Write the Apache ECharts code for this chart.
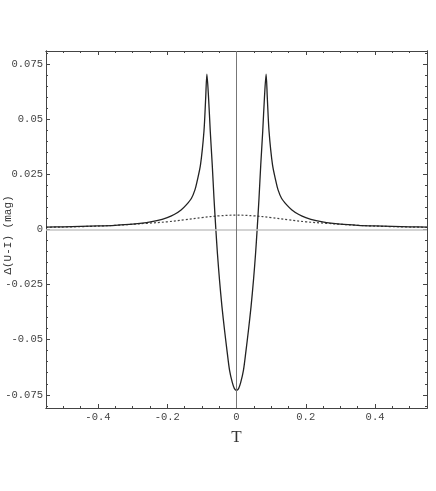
<!DOCTYPE html>
<html>
<head>
<meta charset="utf-8">
<script src="https://cdn.jsdelivr.net/npm/echarts@6/dist/echarts.min.js"></script>
<style>
  html, body { margin: 0; padding: 0; background: #fff; }
  #chart { width: 436px; height: 491px; }
</style>
</head>
<body>
<div id="chart"></div>
<script>
// solid curve (T, Δ(U-I))
var solidT = [-0.55, -0.50, -0.45, -0.40, -0.35, -0.30, -0.26, -0.23, -0.20, -0.18, -0.16, -0.145, -0.13, -0.12, -0.114, -0.104, -0.094, -0.089, -0.0855, -0.0806, -0.0757, -0.070, -0.065, -0.0596, -0.055, -0.049, -0.042, -0.0345, -0.027, -0.020, -0.012, -0.006, 0,
  0.006, 0.012, 0.020, 0.027, 0.0345, 0.042, 0.049, 0.055, 0.0596, 0.065, 0.070, 0.0757, 0.0806, 0.0855, 0.089, 0.094, 0.104, 0.114, 0.12, 0.13, 0.145, 0.16, 0.18, 0.20, 0.23, 0.26, 0.30, 0.35, 0.40, 0.45, 0.50, 0.55]
var solidV = [0.0011, 0.0012, 0.0014, 0.0016, 0.0019, 0.0024, 0.0031, 0.0040, 0.0054, 0.0068, 0.0089, 0.0112, 0.0142, 0.0180, 0.0217, 0.0293, 0.0445, 0.0596, 0.0705, 0.0596, 0.0445, 0.0293, 0.0142, 0.0, -0.0110, -0.0230, -0.0350, -0.0457, -0.0555, -0.0639, -0.0695, -0.0722, -0.0730,
  -0.0722, -0.0695, -0.0639, -0.0555, -0.0457, -0.0350, -0.0230, -0.0110, 0.0, 0.0142, 0.0293, 0.0445, 0.0596, 0.0705, 0.0596, 0.0445, 0.0293, 0.0217, 0.0180, 0.0142, 0.0112, 0.0089, 0.0068, 0.0054, 0.0040, 0.0031, 0.0024, 0.0019, 0.0016, 0.0014, 0.0012, 0.0011]

// dotted curve
var dottedT = [-0.55, -0.45, -0.35, -0.26, -0.20, -0.15, -0.10, -0.05, 0, 0.05, 0.10, 0.15, 0.20, 0.26, 0.35, 0.45, 0.55]
var dottedV = [0.0010, 0.0013, 0.0019, 0.0028, 0.0035, 0.0044, 0.0054, 0.0062, 0.0065, 0.0062, 0.0054, 0.0044, 0.0035, 0.0028, 0.0019, 0.0013, 0.0010]

// tick labels
var xTicks = [-0.4, -0.2, 0, 0.2, 0.4]
var yTicks = [-0.075, -0.05, -0.025, 0, 0.025, 0.05, 0.075]

var xMin = -0.55, xMax = 0.55
var yMin = -0.081, yMax = 0.081

var xMinor = []
for (var i = -11; i <= 11; i++) xMinor.push(+(i * 0.05).toFixed(3))
var yMinor = []
for (var j = -16; j <= 16; j++) yMinor.push(+(j * 0.005).toFixed(3))

function pairs(a, b) {
  return a.map(function(t, k) { return [t, b[k]] })
}

var frameColor = '#444'
var labelFont = { fontFamily: 'Liberation Mono', fontSize: 10.5, color: '#444' }

function xAx(pos, ticks, len, label) {
  return {
    type: 'value', position: pos, min: xMin, max: xMax,
    axisLine: { show: true, onZero: false, lineStyle: { color: frameColor, width: 1 } },
    axisTick: { show: true, inside: true, length: len, customValues: ticks, lineStyle: { color: frameColor } },
    axisLabel: label ? Object.assign({ show: true, margin: 4, customValues: ticks, formatter: function(v) { return String(v) } }, labelFont) : { show: false },
    splitLine: { show: false }
  }
}
function yAx(pos, ticks, len, label) {
  return {
    type: 'value', position: pos, min: yMin, max: yMax,
    axisLine: { show: true, onZero: false, lineStyle: { color: frameColor, width: 1 } },
    axisTick: { show: true, inside: true, length: len, customValues: ticks, lineStyle: { color: frameColor } },
    axisLabel: label ? Object.assign({ show: true, margin: 3, customValues: ticks, formatter: function(v) { return String(v) } }, labelFont) : { show: false },
    splitLine: { show: false }
  }
}

var xAxes = [
  xAx('bottom', xTicks, 4, true),
  xAx('bottom', xMinor, 2, false),
  xAx('top', xTicks, 4, false),
  xAx('top', xMinor, 2, false)
]
xAxes[0].name = 'T'
xAxes[0].nameLocation = 'middle'
xAxes[0].nameGap = 21
xAxes[0].nameTextStyle = { fontFamily: 'Liberation Serif', fontSize: 17, color: '#333' }

var yAxes = [
  yAx('left', yTicks, 4, true),
  yAx('left', yMinor, 2, false),
  yAx('right', yTicks, 4, false),
  yAx('right', yMinor, 2, false)
]

var chart = echarts.init(document.getElementById('chart'))
chart.setOption({
  backgroundColor: '#fff',
  animation: false,
  grid: { left: 46, top: 51, right: 9, bottom: 83, containLabel: false, outerBoundsMode: 'none' },
  xAxis: xAxes,
  yAxis: yAxes,
  graphic: [{
    type: 'text',
    x: 8, y: 235,
    rotation: Math.PI / 2,
    style: {
      text: 'Δ(U-I) (mag)',
      fontFamily: 'Liberation Mono', fontSize: 11, fill: '#333',
      align: 'center', verticalAlign: 'middle'
    }
  }],
  series: [{
    type: 'line',
    data: pairs(dottedT, dottedV),
    showSymbol: false,
    smooth: 0.4,
    lineStyle: { color: '#444', width: 1.2, type: [2, 2] },
    markLine: {
      silent: true,
      symbol: 'none',
      label: { show: false },
      data: [
        { yAxis: 0, lineStyle: { color: '#c4c4c4', width: 1.5, type: 'solid' } },
        { xAxis: 0, lineStyle: { color: '#777', width: 1, type: 'solid' } }
      ]
    }
  }, {
    type: 'line',
    data: pairs(solidT, solidV),
    showSymbol: false,
    smooth: 0.3,
    lineStyle: { color: '#222', width: 1.3 }
  }]
})
</script>
</body>
</html>
